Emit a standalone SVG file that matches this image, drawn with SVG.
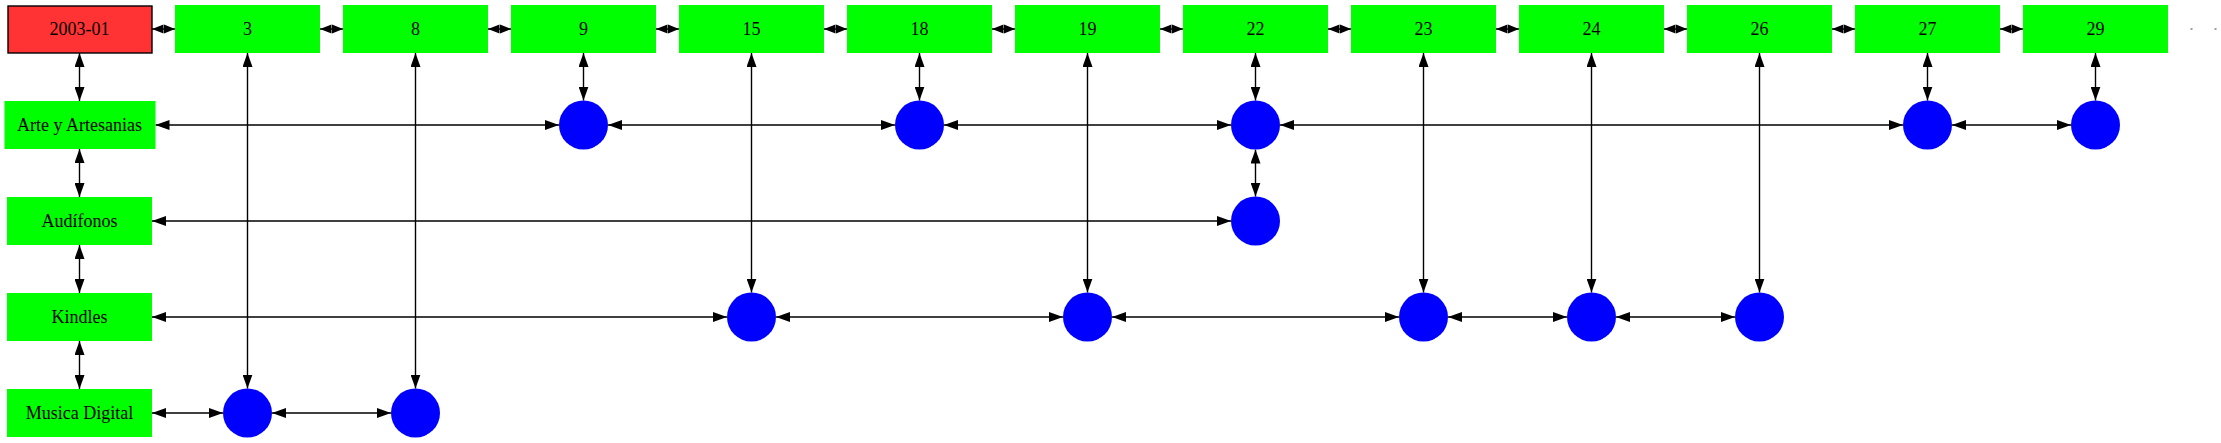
<svg xmlns="http://www.w3.org/2000/svg" width="2221" height="443" viewBox="0 0 2221 443">
<style>
.box{fill:#00ff00;stroke:none}
.root{fill:#ff3333;stroke:#000;stroke-width:1.4}
.dot{fill:#0000ff;stroke:none}
text{font-family:"Liberation Serif","Times New Roman",serif;font-size:18px;fill:#000;text-anchor:middle}
.e{stroke:#000;stroke-width:1.4;fill:none;marker-start:url(#a);marker-end:url(#a)}
.t{stroke:#000;stroke-width:1.4;fill:none;marker-start:url(#s);marker-end:url(#s)}
.d{stroke:#808080;stroke-width:1.4;fill:none;stroke-dasharray:2 22}
</style>
<defs>
<marker id="a" markerUnits="userSpaceOnUse" markerWidth="14" markerHeight="10" refX="14" refY="5" orient="auto-start-reverse"><path d="M0,0 L14,5 L0,10 z" fill="#000"/></marker>
<marker id="s" markerUnits="userSpaceOnUse" markerWidth="12" markerHeight="10" refX="11.5" refY="5" orient="auto-start-reverse"><path d="M0,0.4 L11.5,5 L0,9.6 z" fill="#000"/></marker>
</defs>
<rect width="2221" height="443" fill="#fff"/>
<g id="connectors">
<line class="t" x1="152" y1="29" x2="175" y2="29"/>
<line class="t" x1="320" y1="29" x2="343" y2="29"/>
<line class="t" x1="488" y1="29" x2="511" y2="29"/>
<line class="t" x1="656" y1="29" x2="679" y2="29"/>
<line class="t" x1="824" y1="29" x2="847" y2="29"/>
<line class="t" x1="992" y1="29" x2="1015" y2="29"/>
<line class="t" x1="1160" y1="29" x2="1183" y2="29"/>
<line class="t" x1="1328" y1="29" x2="1351" y2="29"/>
<line class="t" x1="1496" y1="29" x2="1519" y2="29"/>
<line class="t" x1="1664" y1="29" x2="1687" y2="29"/>
<line class="t" x1="1832" y1="29" x2="1855" y2="29"/>
<line class="t" x1="2000" y1="29" x2="2023" y2="29"/>
<line class="d" x1="2190.5" y1="29" x2="2217" y2="29"/>
<line class="e" x1="79.5" y1="53" x2="79.5" y2="101"/>
<line class="e" x1="79.5" y1="149" x2="79.5" y2="197"/>
<line class="e" x1="79.5" y1="245" x2="79.5" y2="293"/>
<line class="e" x1="79.5" y1="341" x2="79.5" y2="389"/>
<line class="e" x1="155.5" y1="125" x2="559" y2="125"/>
<line class="e" x1="608" y1="125" x2="895" y2="125"/>
<line class="e" x1="944" y1="125" x2="1231" y2="125"/>
<line class="e" x1="1280" y1="125" x2="1903" y2="125"/>
<line class="e" x1="1952" y1="125" x2="2071" y2="125"/>
<line class="e" x1="583.5" y1="53" x2="583.5" y2="100.5"/>
<line class="e" x1="919.5" y1="53" x2="919.5" y2="100.5"/>
<line class="e" x1="1255.5" y1="53" x2="1255.5" y2="100.5"/>
<line class="e" x1="1927.5" y1="53" x2="1927.5" y2="100.5"/>
<line class="e" x1="2095.5" y1="53" x2="2095.5" y2="100.5"/>
<line class="e" x1="152" y1="221" x2="1231" y2="221"/>
<line class="e" x1="1255.5" y1="149.5" x2="1255.5" y2="196.5"/>
<line class="e" x1="152" y1="317" x2="727" y2="317"/>
<line class="e" x1="776" y1="317" x2="1063" y2="317"/>
<line class="e" x1="1112" y1="317" x2="1399" y2="317"/>
<line class="e" x1="1448" y1="317" x2="1567" y2="317"/>
<line class="e" x1="1616" y1="317" x2="1735" y2="317"/>
<line class="e" x1="751.5" y1="53" x2="751.5" y2="292.5"/>
<line class="e" x1="1087.5" y1="53" x2="1087.5" y2="292.5"/>
<line class="e" x1="1423.5" y1="53" x2="1423.5" y2="292.5"/>
<line class="e" x1="1591.5" y1="53" x2="1591.5" y2="292.5"/>
<line class="e" x1="1759.5" y1="53" x2="1759.5" y2="292.5"/>
<line class="e" x1="152" y1="413" x2="223" y2="413"/>
<line class="e" x1="272" y1="413" x2="391" y2="413"/>
<line class="e" x1="247.5" y1="53" x2="247.5" y2="388.5"/>
<line class="e" x1="415.5" y1="53" x2="415.5" y2="388.5"/>
</g>
<g id="n2003-01"><rect class="root" x="8" y="6" width="144" height="47"/><text x="79.5" y="35">2003-01</text></g>
<g id="n3"><rect class="box" x="175" y="5" width="145" height="48"/><text x="247.5" y="35">3</text></g>
<g id="n8"><rect class="box" x="343" y="5" width="145" height="48"/><text x="415.5" y="35">8</text></g>
<g id="n9"><rect class="box" x="511" y="5" width="145" height="48"/><text x="583.5" y="35">9</text></g>
<g id="n15"><rect class="box" x="679" y="5" width="145" height="48"/><text x="751.5" y="35">15</text></g>
<g id="n18"><rect class="box" x="847" y="5" width="145" height="48"/><text x="919.5" y="35">18</text></g>
<g id="n19"><rect class="box" x="1015" y="5" width="145" height="48"/><text x="1087.5" y="35">19</text></g>
<g id="n22"><rect class="box" x="1183" y="5" width="145" height="48"/><text x="1255.5" y="35">22</text></g>
<g id="n23"><rect class="box" x="1351" y="5" width="145" height="48"/><text x="1423.5" y="35">23</text></g>
<g id="n24"><rect class="box" x="1519" y="5" width="145" height="48"/><text x="1591.5" y="35">24</text></g>
<g id="n26"><rect class="box" x="1687" y="5" width="145" height="48"/><text x="1759.5" y="35">26</text></g>
<g id="n27"><rect class="box" x="1855" y="5" width="145" height="48"/><text x="1927.5" y="35">27</text></g>
<g id="n29"><rect class="box" x="2023" y="5" width="145" height="48"/><text x="2095.5" y="35">29</text></g>
<g id="arte"><rect class="box" x="4.5" y="101" width="151" height="48"/><text x="79.5" y="131">Arte y Artesanias</text></g>
<g id="audifonos"><rect class="box" x="7" y="197" width="145" height="48"/><text x="79.5" y="227">Audífonos</text></g>
<g id="kindles"><rect class="box" x="7" y="293" width="145" height="48"/><text x="79.5" y="323">Kindles</text></g>
<g id="musica"><rect class="box" x="7" y="389" width="145" height="48"/><text x="79.5" y="419">Musica Digital</text></g>
<g id="arte9"><circle class="dot" cx="583.5" cy="125" r="24.5"/></g>
<g id="arte18"><circle class="dot" cx="919.5" cy="125" r="24.5"/></g>
<g id="arte22"><circle class="dot" cx="1255.5" cy="125" r="24.5"/></g>
<g id="arte27"><circle class="dot" cx="1927.5" cy="125" r="24.5"/></g>
<g id="arte29"><circle class="dot" cx="2095.5" cy="125" r="24.5"/></g>
<g id="aud22"><circle class="dot" cx="1255.5" cy="221" r="24.5"/></g>
<g id="kin15"><circle class="dot" cx="751.5" cy="317" r="24.5"/></g>
<g id="kin19"><circle class="dot" cx="1087.5" cy="317" r="24.5"/></g>
<g id="kin23"><circle class="dot" cx="1423.5" cy="317" r="24.5"/></g>
<g id="kin24"><circle class="dot" cx="1591.5" cy="317" r="24.5"/></g>
<g id="kin26"><circle class="dot" cx="1759.5" cy="317" r="24.5"/></g>
<g id="mus3"><circle class="dot" cx="247.5" cy="413" r="24.5"/></g>
<g id="mus8"><circle class="dot" cx="415.5" cy="413" r="24.5"/></g>
</svg>
